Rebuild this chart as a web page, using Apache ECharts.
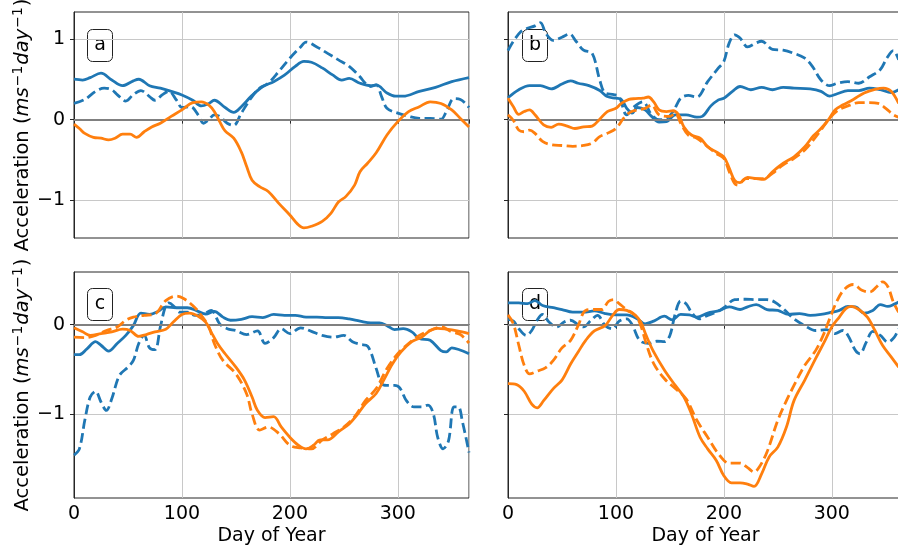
<!DOCTYPE html>
<html>
<head>
<meta charset="utf-8">
<script src="https://cdn.jsdelivr.net/npm/echarts@6/dist/echarts.min.js"></script>
<style>
  html, body { margin: 0; padding: 0; background: #fff; }
  #chart { width: 898px; height: 550px; }
</style>
</head>
<body>
<div id="chart"></div>
<script>
// Axis ticks
const dayTicks = [0, 100, 200, 300];
const topRowTicks = [-1, 0, 1];
const bottomRowTicks = [-1, 0];
const panelLabels = ['a', 'b', 'c', 'd'];

// Panel a: [day, acceleration]
const aBlue = [[0,0.50],[8,0.49],[15,0.52],[25,0.575],[35,0.49],[45,0.42],[55,0.48],[60,0.50],[70,0.42],[80,0.39],[90,0.35],[100,0.305],[110,0.24],[118,0.17],[125,0.20],[130,0.24],[140,0.15],[148,0.09],[155,0.16],[165,0.30],[175,0.41],[185,0.47],[195,0.55],[205,0.66],[213,0.72],[220,0.71],[230,0.64],[240,0.55],[248,0.49],[255,0.51],[265,0.45],[275,0.42],[280,0.43],[290,0.33],[298,0.29],[305,0.29],[320,0.35],[335,0.40],[350,0.47],[366,0.52]];
const aBlueDash = [[0,0.20],[10,0.25],[20,0.35],[28,0.39],[35,0.37],[40,0.31],[48,0.23],[55,0.31],[62,0.36],[70,0.285],[75,0.24],[82,0.31],[88,0.35],[95,0.24],[100,0.15],[108,0.16],[115,0.06],[120,-0.045],[125,0.0],[130,0.06],[135,0.04],[142,-0.045],[148,-0.07],[155,0.08],[165,0.285],[172,0.39],[180,0.45],[190,0.60],[200,0.76],[210,0.90],[215,0.96],[225,0.90],[235,0.82],[245,0.74],[255,0.66],[265,0.53],[270,0.45],[275,0.41],[280,0.43],[285,0.285],[290,0.14],[300,0.08],[310,0.04],[320,0.015],[330,0.015],[340,0.005],[345,0.10],[352,0.26],[358,0.25],[366,0.15]];
const aOrange = [[0,-0.055],[5,-0.11],[10,-0.17],[18,-0.22],[25,-0.23],[32,-0.25],[38,-0.23],[45,-0.18],[52,-0.18],[58,-0.22],[65,-0.15],[72,-0.09],[80,-0.045],[90,0.04],[100,0.12],[110,0.21],[118,0.22],[125,0.18],[130,0.10],[135,-0.025],[140,-0.14],[148,-0.23],[155,-0.40],[160,-0.58],[165,-0.75],[172,-0.83],[180,-0.89],[190,-1.04],[200,-1.18],[207,-1.29],[213,-1.34],[220,-1.32],[230,-1.26],[238,-1.16],[245,-1.02],[252,-0.95],[260,-0.81],[265,-0.645],[272,-0.54],[280,-0.41],[290,-0.19],[300,-0.025],[310,0.10],[320,0.16],[330,0.22],[340,0.20],[350,0.12],[358,0.015],[366,-0.09]];

// Panel b
const bBlue = [[0,0.27],[10,0.37],[20,0.42],[30,0.42],[40,0.38],[50,0.44],[58,0.48],[65,0.45],[75,0.42],[85,0.36],[92,0.285],[100,0.265],[105,0.25],[110,0.14],[115,0.08],[120,0.15],[127,0.12],[133,0.04],[140,-0.03],[147,-0.025],[155,0.06],[165,0.06],[175,0.03],[180,0.04],[188,0.17],[195,0.245],[200,0.265],[208,0.35],[215,0.41],[225,0.37],[235,0.40],[245,0.37],[255,0.40],[265,0.39],[280,0.38],[290,0.35],[298,0.29],[305,0.32],[315,0.36],[325,0.36],[335,0.39],[345,0.37],[355,0.335],[362,0.37]];
const bBlueDash = [[0,0.855],[5,0.97],[12,1.09],[18,1.13],[25,1.16],[30,1.20],[35,1.07],[42,0.98],[50,1.02],[57,1.06],[63,0.97],[70,0.86],[78,0.82],[85,0.49],[90,0.33],[98,0.31],[103,0.285],[110,0.06],[117,0.16],[125,0.22],[133,0.06],[140,0.0],[147,0.015],[153,0.10],[160,0.265],[167,0.30],[175,0.28],[185,0.47],[195,0.64],[200,0.72],[205,0.95],[210,1.05],[215,1.01],[222,0.90],[230,0.95],[235,0.97],[245,0.87],[255,0.86],[265,0.82],[275,0.76],[282,0.66],[290,0.49],[298,0.42],[305,0.45],[315,0.47],[325,0.45],[335,0.53],[345,0.62],[351,0.76],[357,0.855],[362,0.74]];
const bOrange = [[0,0.265],[5,0.16],[10,0.065],[15,0.10],[20,0.12],[25,0.06],[33,-0.065],[40,-0.095],[47,-0.055],[55,-0.08],[62,-0.11],[70,-0.09],[78,-0.08],[85,0.005],[92,0.10],[100,0.14],[105,0.20],[112,0.25],[118,0.26],[125,0.265],[130,0.28],[135,0.22],[140,0.12],[147,0.10],[153,0.11],[158,0.06],[163,-0.09],[170,-0.19],[178,-0.23],[185,-0.335],[193,-0.40],[200,-0.46],[205,-0.60],[210,-0.75],[215,-0.78],[222,-0.715],[230,-0.73],[237,-0.74],[245,-0.645],[255,-0.54],[265,-0.46],[275,-0.335],[283,-0.20],[290,-0.11],[297,0.0],[303,0.12],[310,0.18],[320,0.25],[330,0.33],[340,0.375],[348,0.39],[355,0.35],[362,0.20]];
const bOrangeDash = [[0,0.06],[5,-0.01],[10,-0.13],[15,-0.15],[20,-0.13],[25,-0.17],[32,-0.27],[40,-0.31],[50,-0.32],[60,-0.33],[70,-0.32],[78,-0.29],[85,-0.21],[92,-0.17],[100,-0.11],[107,0.015],[113,0.09],[120,0.12],[127,0.14],[133,0.18],[140,0.06],[150,0.04],[155,0.08],[160,-0.045],[167,-0.19],[175,-0.23],[185,-0.335],[193,-0.42],[200,-0.48],[205,-0.645],[210,-0.79],[213,-0.81],[220,-0.73],[230,-0.73],[237,-0.73],[245,-0.665],[255,-0.56],[265,-0.48],[275,-0.375],[283,-0.25],[290,-0.13],[297,0.0],[305,0.11],[315,0.17],[325,0.21],[335,0.21],[343,0.20],[350,0.14],[357,0.06],[362,0.03]];

// Panel c
const cBlue = [[0,-0.335],[5,-0.335],[12,-0.27],[20,-0.19],[25,-0.23],[32,-0.295],[40,-0.21],[48,-0.12],[55,-0.01],[62,0.13],[70,0.115],[78,0.15],[85,0.20],[95,0.19],[105,0.19],[115,0.15],[122,0.12],[130,0.15],[138,0.085],[145,0.05],[155,0.06],[165,0.09],[175,0.08],[185,0.115],[195,0.105],[205,0.105],[215,0.085],[225,0.085],[235,0.08],[245,0.08],[255,0.065],[265,0.04],[275,0.02],[283,0.02],[290,-0.01],[297,-0.055],[305,-0.045],[313,-0.08],[320,-0.155],[330,-0.175],[340,-0.29],[345,-0.305],[350,-0.26],[357,-0.28],[366,-0.325]];
const cBlueDash = [[0,-1.46],[5,-1.39],[10,-1.07],[15,-0.81],[20,-0.745],[25,-0.865],[30,-0.96],[35,-0.83],[42,-0.57],[50,-0.475],[55,-0.40],[60,-0.21],[65,-0.12],[70,-0.26],[75,-0.28],[80,-0.025],[85,0.215],[88,0.245],[93,0.20],[98,0.14],[105,0.14],[112,0.105],[120,0.12],[127,0.16],[135,0.01],[142,-0.045],[150,-0.065],[160,-0.11],[170,-0.07],[177,-0.21],[185,-0.145],[192,-0.045],[200,-0.10],[210,-0.035],[220,-0.075],[230,-0.12],[240,-0.14],[250,-0.12],[258,-0.19],[265,-0.22],[272,-0.24],[280,-0.49],[285,-0.66],[290,-0.68],[297,-0.68],[302,-0.71],[308,-0.85],[315,-0.92],[322,-0.92],[328,-0.90],[333,-1.00],[337,-1.26],[342,-1.39],[347,-1.30],[352,-0.92],[356,-0.92],[360,-1.09],[366,-1.43]];
const cOrange = [[0,-0.035],[8,-0.08],[15,-0.12],[25,-0.10],[35,-0.08],[45,-0.05],[52,-0.065],[60,-0.13],[67,-0.11],[75,-0.08],[85,-0.05],[92,0.03],[100,0.115],[107,0.13],[115,0.095],[122,0.03],[127,-0.08],[133,-0.21],[140,-0.325],[150,-0.475],[158,-0.62],[165,-0.81],[170,-0.96],[177,-1.04],[185,-1.03],[192,-1.145],[200,-1.26],[208,-1.35],[215,-1.39],[222,-1.35],[228,-1.29],[235,-1.29],[245,-1.20],[255,-1.11],[262,-1.015],[270,-0.885],[280,-0.77],[287,-0.62],[295,-0.44],[303,-0.305],[313,-0.19],[322,-0.14],[330,-0.065],[337,-0.04],[345,-0.05],[355,-0.07],[366,-0.10]];
const cOrangeDash = [[0,-0.14],[10,-0.145],[20,-0.12],[30,-0.065],[40,-0.025],[48,0.05],[55,0.085],[65,0.105],[75,0.12],[85,0.27],[95,0.32],[102,0.29],[110,0.215],[117,0.12],[125,-0.025],[130,-0.21],[138,-0.40],[150,-0.55],[160,-0.775],[165,-1.0],[172,-1.18],[180,-1.145],[190,-1.22],[200,-1.35],[210,-1.38],[220,-1.39],[230,-1.29],[240,-1.22],[250,-1.145],[260,-1.03],[270,-0.85],[280,-0.715],[290,-0.49],[300,-0.325],[310,-0.21],[320,-0.12],[330,-0.065],[340,-0.025],[350,-0.08],[358,-0.11],[366,-0.205]];

// Panel d
const dBlue = [[0,0.245],[10,0.245],[18,0.235],[25,0.27],[32,0.215],[42,0.19],[50,0.17],[60,0.14],[70,0.14],[80,0.155],[90,0.125],[100,0.11],[110,0.11],[120,0.065],[127,0.01],[135,0.04],[145,0.095],[152,0.055],[160,0.115],[168,0.11],[175,0.085],[185,0.13],[195,0.155],[205,0.20],[215,0.17],[222,0.20],[230,0.225],[240,0.17],[250,0.16],[260,0.115],[270,0.125],[280,0.105],[290,0.115],[300,0.14],[307,0.16],[315,0.205],[322,0.20],[330,0.13],[338,0.16],[345,0.225],[352,0.205],[358,0.23],[362,0.255]];
const dBlueDash = [[0,0.06],[5,0.04],[10,-0.045],[17,-0.12],[22,-0.065],[27,0.05],[32,0.115],[38,0.03],[45,-0.025],[52,0.03],[58,0.05],[65,0.0],[70,-0.025],[77,0.05],[83,0.105],[90,-0.01],[97,-0.045],[103,0.04],[110,0.065],[115,0.0],[122,-0.175],[130,-0.21],[138,-0.185],[145,-0.19],[150,-0.12],[155,0.125],[160,0.265],[165,0.235],[170,0.14],[177,0.065],[185,0.105],[193,0.14],[200,0.19],[210,0.28],[220,0.285],[230,0.28],[240,0.28],[247,0.255],[255,0.18],[265,0.065],[275,-0.01],[285,-0.065],[295,-0.055],[303,-0.10],[310,-0.065],[315,-0.12],[322,-0.29],[326,-0.325],[332,-0.195],[338,-0.075],[345,-0.12],[352,-0.195],[358,-0.14],[362,-0.045]];
const dOrange = [[0,-0.66],[8,-0.67],[15,-0.745],[22,-0.89],[27,-0.93],[33,-0.85],[42,-0.715],[50,-0.62],[58,-0.44],[65,-0.305],[72,-0.175],[80,-0.07],[90,-0.01],[97,0.105],[103,0.17],[110,0.16],[118,0.105],[123,0.03],[128,-0.12],[135,-0.305],[145,-0.51],[155,-0.68],[163,-0.81],[170,-1.0],[178,-1.26],[185,-1.39],[193,-1.52],[200,-1.69],[207,-1.77],[215,-1.77],[222,-1.785],[228,-1.81],[235,-1.67],[242,-1.48],[250,-1.37],[258,-1.145],[265,-0.85],[275,-0.62],[285,-0.38],[293,-0.195],[300,-0.025],[307,0.085],[313,0.18],[318,0.205],[325,0.17],[333,0.085],[340,-0.065],[347,-0.23],[355,-0.36],[362,-0.475]];
const dOrangeDash = [[0,0.11],[5,0.01],[10,-0.23],[15,-0.455],[20,-0.55],[27,-0.52],[35,-0.48],[42,-0.40],[50,-0.26],[58,-0.175],[65,-0.01],[72,0.16],[80,0.17],[87,0.17],[93,0.26],[98,0.28],[103,0.235],[110,0.17],[118,0.105],[123,-0.01],[128,-0.21],[135,-0.435],[145,-0.605],[155,-0.715],[165,-0.83],[175,-1.07],[185,-1.26],[195,-1.445],[205,-1.55],[215,-1.55],[222,-1.60],[228,-1.65],[233,-1.59],[240,-1.425],[250,-1.07],[258,-0.85],[265,-0.68],[275,-0.455],[285,-0.29],[292,-0.12],[298,0.065],[305,0.27],[312,0.40],[320,0.45],[328,0.385],[335,0.365],[342,0.43],[347,0.48],[352,0.425],[357,0.255],[362,0.14]];

const BLUE = '#1f77b4';
const ORANGE = '#ff7f0e';
const FONT = 'DejaVu Sans';

const panels = [
  { lines: [[aBlue, BLUE, false], [aBlueDash, BLUE, true], [aOrange, ORANGE, false]], ymin: -1.465, ymax: 1.332, ticks: topRowTicks },
  { lines: [[bBlue, BLUE, false], [bBlueDash, BLUE, true], [bOrange, ORANGE, false], [bOrangeDash, ORANGE, true]], ymin: -1.465, ymax: 1.332, ticks: topRowTicks },
  { lines: [[cBlue, BLUE, false], [cBlueDash, BLUE, true], [cOrange, ORANGE, false], [cOrangeDash, ORANGE, true]], ymin: -1.94, ymax: 0.59, ticks: bottomRowTicks },
  { lines: [[dBlue, BLUE, false], [dBlueDash, BLUE, true], [dOrange, ORANGE, false], [dOrangeDash, ORANGE, true]], ymin: -1.94, ymax: 0.59, ticks: bottomRowTicks }
];

// Panel frames; the right column runs slightly past the canvas edge
const grids = [
  { left: 74, top: 12, width: 395, height: 226 },
  { left: 508, top: 12, width: 395, height: 226 },
  { left: 74, top: 272, width: 395, height: 226 },
  { left: 508, top: 272, width: 395, height: 226 }
].map(g => Object.assign({
  show: true, borderColor: '#262626', borderWidth: 1, backgroundColor: 'transparent',
  containLabel: false, outerBoundsMode: 'none'
}, g));

const minus = v => String(v).replace('-', '\u2212');

const xAxes = grids.map((g, i) => ({
  type: 'value', gridIndex: i, min: 0, max: 366, interval: 100,
  axisLine: { show: true, lineStyle: { color: '#262626', width: 1 } },
  axisTick: { show: true, inside: false, length: 4, lineStyle: { color: '#262626', width: 1 } },
  axisLabel: { show: i >= 2, fontFamily: FONT, fontSize: 19, color: '#000', margin: 7, showMaxLabel: false },
  splitLine: { show: true, lineStyle: { color: '#c8c8c8', width: 1 } },
  name: i >= 2 ? 'Day of Year' : '',
  nameLocation: 'middle', nameGap: 29,
  nameTextStyle: { fontFamily: FONT, fontSize: 19, color: '#000' }
}));

const yName = '{n|Acceleration (}{i|ms}{s|\u22121}{i|day}{s|\u22121}{n|)}';
const yAxes = panels.map((p, i) => ({
  type: 'value', gridIndex: i, min: p.ymin, max: p.ymax,
  axisLine: { show: true, lineStyle: { color: '#262626', width: 1 } },
  axisTick: { show: true, inside: false, length: 4, customValues: p.ticks, lineStyle: { color: '#262626', width: 1 } },
  axisLabel: { show: i % 2 === 0, customValues: p.ticks, formatter: minus, fontFamily: FONT, fontSize: 19, color: '#000', margin: 9 },
  splitLine: { show: true, lineStyle: { color: '#c8c8c8', width: 1 } },
  name: i % 2 === 0 ? yName : '',
  nameLocation: 'middle', nameGap: 38,
  nameTextStyle: {
    fontFamily: FONT, color: '#000',
    rich: {
      n: { fontFamily: FONT, fontSize: 19.5, color: '#000', lineHeight: 24 },
      i: { fontFamily: FONT, fontSize: 19.5, fontStyle: 'italic', color: '#000', lineHeight: 24 },
      s: { fontFamily: FONT, fontSize: 14, color: '#000', lineHeight: 24, verticalAlign: 'top', padding: [0, 1, 0, 1] }
    }
  }
}));

const series = [];
panels.forEach((p, i) => {
  p.lines.forEach(([data, color, dashed], k) => {
    const s = {
      type: 'line', xAxisIndex: i, yAxisIndex: i, data: data,
      showSymbol: false, symbol: 'none', smooth: 0.35, clip: true, silent: true,
      z: 3 + k,
      lineStyle: { color: color, width: 2.8, type: dashed ? [10, 4.5] : 'solid', cap: 'butt' },
      itemStyle: { color: color }
    };
    if (k === 0) {
      s.markLine = {
        silent: true, symbol: 'none', label: { show: false },
        lineStyle: { color: '#808080', width: 2, type: 'solid' },
        data: [{ yAxis: 0 }]
      };
    }
    series.push(s);
  });
});

// Panel letters in rounded boxes
const boxSpots = [[87, 29], [522, 29], [87, 288], [522, 288]];
const graphic = panelLabels.map((t, i) => ({
  type: 'group', left: boxSpots[i][0], top: boxSpots[i][1], z: 100,
  children: [
    { type: 'rect', shape: { x: 0, y: 0, width: 25, height: 32, r: 5 },
      style: { fill: 'rgba(255,255,255,0.6)', stroke: '#222', lineWidth: 1 } },
    { type: 'text', x: 12.5, y: 16,
      style: { text: t, fontFamily: FONT, fontSize: 19, fill: '#000', align: 'center', verticalAlign: 'middle' } }
  ]
}));

const chart = echarts.init(document.getElementById('chart'), null, { renderer: 'canvas' });
chart.setOption({
  animation: false,
  backgroundColor: '#fff',
  textStyle: { fontFamily: FONT },
  grid: grids,
  xAxis: xAxes,
  yAxis: yAxes,
  series: series,
  graphic: graphic
});
</script>
</body>
</html>
